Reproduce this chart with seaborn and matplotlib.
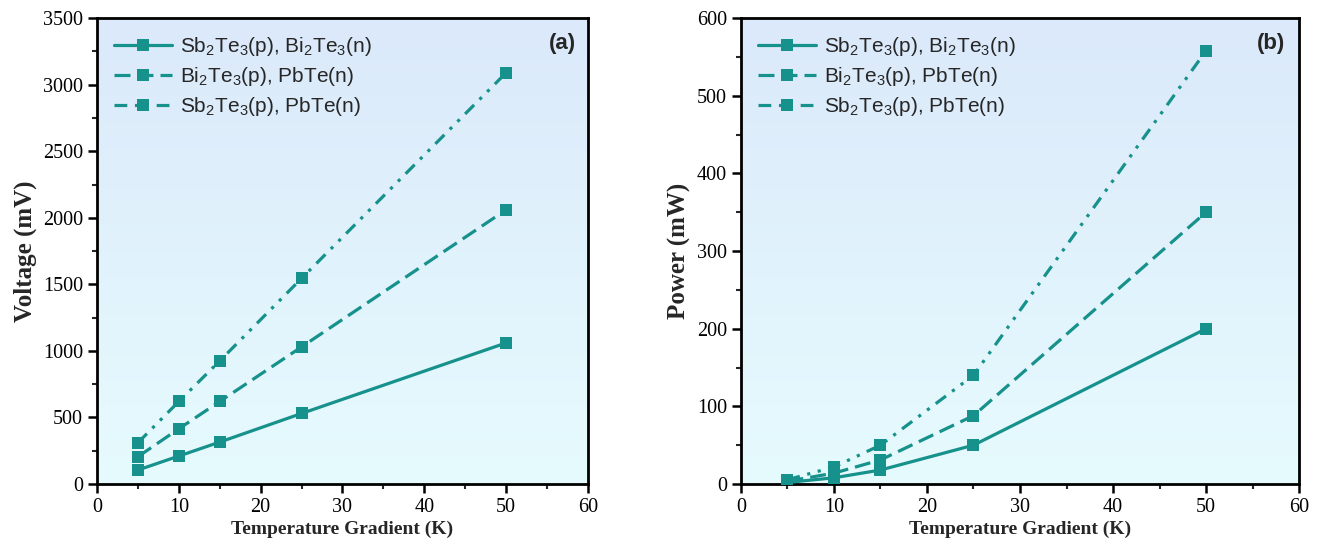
import numpy as np
import pandas as pd
import matplotlib
matplotlib.use("Agg")
import matplotlib.pyplot as plt
import seaborn as sns
from matplotlib.ticker import MultipleLocator

# ---- data ----
temp_gradient = [5, 10, 15, 25, 50]
series_names = [r"Sb$_2$Te$_3$(p), Bi$_2$Te$_3$(n)",
                r"Bi$_2$Te$_3$(p), PbTe(n)",
                r"Sb$_2$Te$_3$(p), PbTe(n)"]
voltage_sb_bi = [105, 210, 315, 530, 1060]
voltage_bi_pb = [205, 415, 620, 1030, 2060]
voltage_sb_pb = [310, 620, 925, 1545, 3090]
power_sb_bi = [2, 8, 18, 50, 200]
power_bi_pb = [3.5, 14, 31, 88, 350]
power_sb_pb = [5.5, 22, 50, 140, 558]

sns.set_theme(style="ticks")
plt.rcParams['font.family'] = ['Liberation Serif', 'DejaVu Serif']
plt.rcParams['mathtext.fontset'] = 'custom'
plt.rcParams['mathtext.rm'] = 'Liberation Sans'

color = "#17918b"
styles = ["-", (0, (5, 2.2)), (0, (4, 2.4, 1, 2.4, 1, 2.4))]

fig = plt.figure(figsize=(13.18, 5.5), dpi=100)
ax_a = fig.add_axes([0.0736, 0.12, 0.3725, 0.847])
ax_b = fig.add_axes([0.5622, 0.12, 0.4234, 0.847])

grad = np.linspace(0, 1, 256).reshape(-1, 1)
top = np.array([219, 233, 250]) / 255
bot = np.array([230, 251, 254]) / 255

def draw(ax, ys, ylim, ymaj, ymin, ylabel, tag):
    img = top[None, None, :] * (1 - grad[:, :, None]) + bot[None, None, :] * grad[:, :, None]
    ax.imshow(img, extent=[0, 60, ylim[0], ylim[1]], aspect='auto', zorder=0, origin='upper')
    for name, y, ls in zip(series_names, ys, styles):
        df = pd.DataFrame({"x": temp_gradient, "y": y})
        sns.lineplot(data=df, x="x", y="y", ax=ax, color=color, marker="s",
                     markersize=9.2, markeredgewidth=0, linewidth=2.3,
                     linestyle=ls, label=name, zorder=3)
    ax.set_xlim(0, 60)
    ax.set_ylim(*ylim)
    ax.xaxis.set_major_locator(MultipleLocator(10))
    ax.xaxis.set_minor_locator(MultipleLocator(5))
    ax.yaxis.set_major_locator(MultipleLocator(ymaj))
    ax.yaxis.set_minor_locator(MultipleLocator(ymin))
    ax.tick_params(which='major', direction='out', length=6.5, width=1.8, labelsize=14.5, colors='black')
    ax.tick_params(which='minor', direction='out', length=3.5, width=1.5)
    for sp in ax.spines.values():
        sp.set_linewidth(2)
        sp.set_color('black')
    ax.set_xlabel("Temperature Gradient (K)", fontsize=14, fontweight='bold', labelpad=3)
    ax.set_ylabel(ylabel, fontsize=18, fontweight='bold', labelpad=4)
    ax.legend(loc='upper left', frameon=False, handlelength=2.8,
              prop={'family': 'Liberation Sans', 'size': 15},
              borderaxespad=0.4, labelspacing=0.35, handletextpad=0.4)
    ax.text(0.975, 0.945, tag, transform=ax.transAxes, ha='right', va='center',
            fontsize=16, fontweight='bold', family='Liberation Sans')

draw(ax_a, [voltage_sb_bi, voltage_bi_pb, voltage_sb_pb], (0, 3500), 500, 250, "Voltage (mV)", "(a)")
draw(ax_b, [power_sb_bi, power_bi_pb, power_sb_pb], (0, 600), 100, 50, "Power (mW)", "(b)")

fig.savefig("out.png", dpi=100)
